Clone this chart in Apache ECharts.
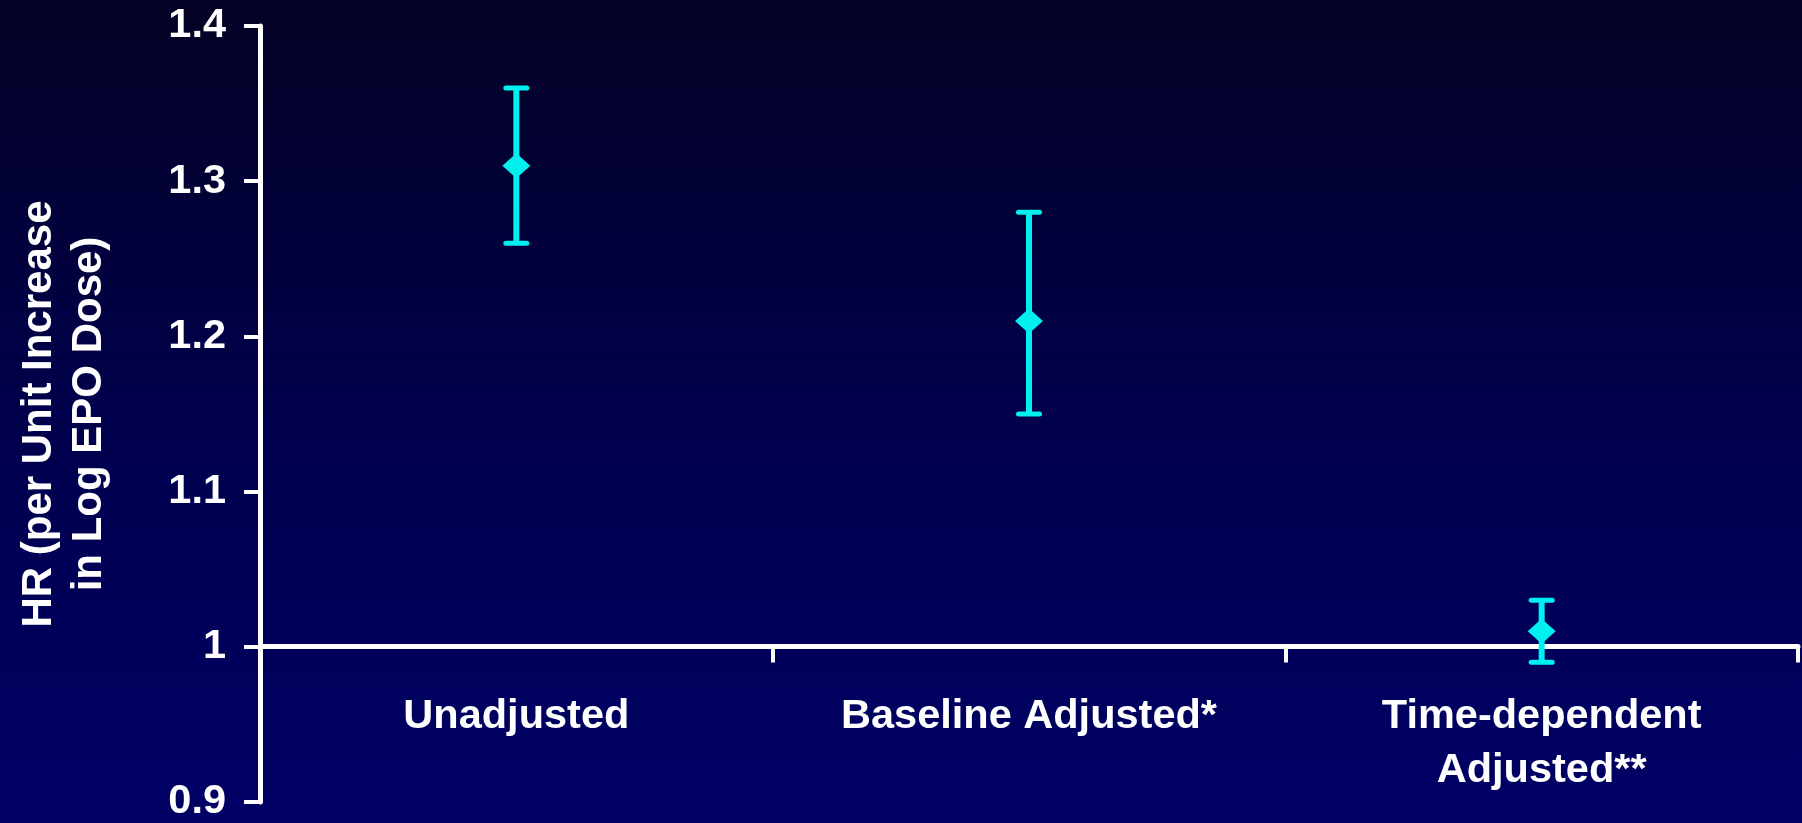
<!DOCTYPE html>
<html>
<head>
<meta charset="utf-8">
<script src="https://cdn.jsdelivr.net/npm/echarts@6/dist/echarts.min.js"></script>
<style>
  html, body { margin: 0; padding: 0; width: 1802px; height: 823px; overflow: hidden; }
  #chart { width: 1802px; height: 823px; }
</style>
</head>
<body>
<div id="chart"></div>
<script>
// ---- data ----
const categories = ['Unadjusted', 'Baseline Adjusted*', 'Time-dependent\nAdjusted**'];
const hrValues = [1.31, 1.21, 1.01];
const ciLower = [1.26, 1.15, 0.99];
const ciUpper = [1.36, 1.28, 1.03];
const yTicks = [0.9, 1.0, 1.1, 1.2, 1.3, 1.4];
const yName = 'HR (per Unit Increase\nin Log EPO Dose)';

// ---- layout ----
const W = 1802, H = 823;
const gridTop = 26, gridBottom = 20, gridLeft = 260, gridRight = 4;
const yMin = yTicks[0], yMax = yTicks[yTicks.length - 1];
const refLine = 1.0;
const gridH = H - gridTop - gridBottom;
const xAxisOffset = -gridH * (refLine - yMin) / (yMax - yMin);

const FONT = 'Liberation Sans, Arial, sans-serif';
const CYAN = '#00F0F0';

const chart = echarts.init(document.getElementById('chart'), null, { renderer: 'canvas' });

const errorData = categories.map((c, i) => [i, ciLower[i], ciUpper[i]]);
const pointData = categories.map((c, i) => [i, hrValues[i]]);

chart.setOption({
  animation: false,
  backgroundColor: {
    type: 'linear', x: 0, y: 0, x2: 0, y2: 1,
    colorStops: [
      { offset: 0, color: '#040224' },
      { offset: 0.5, color: '#00004c' },
      { offset: 1, color: '#000066' }
    ]
  },
  grid: { left: gridLeft, right: gridRight, top: gridTop, bottom: gridBottom, containLabel: false },
  xAxis: {
    type: 'category',
    data: categories,
    position: 'bottom',
    offset: xAxisOffset,
    boundaryGap: true,
    axisLine: { show: true, lineStyle: { color: '#ffffff', width: 5 } },
    axisTick: { show: true, inside: false, length: 16, lineStyle: { color: '#ffffff', width: 4 } },
    axisLabel: {
      color: '#ffffff', fontFamily: FONT, fontWeight: 'bold', fontSize: 41.5,
      lineHeight: 54, margin: 43, interval: 0
    },
    splitLine: { show: false }
  },
  yAxis: {
    type: 'value',
    min: yMin, max: yMax, interval: 0.1,
    name: yName,
    nameLocation: 'middle',
    nameGap: 146,
    nameTextStyle: { color: '#ffffff', fontFamily: FONT, fontWeight: 'bold', fontSize: 42, lineHeight: 50, align: 'center' },
    axisLine: { show: true, lineStyle: { color: '#ffffff', width: 5 } },
    axisTick: { show: true, inside: false, length: 16, lineStyle: { color: '#ffffff', width: 4 } },
    axisLabel: {
      color: '#ffffff', fontFamily: FONT, fontWeight: 'bold', fontSize: 41.5, margin: 34,
      formatter: v => {
        const r = Math.round(v * 10) / 10;
        return r === 1 ? '1' : r.toFixed(1);
      }
    },
    splitLine: { show: false }
  },
  series: [
    {
      type: 'custom',
      name: 'CI',
      data: errorData,
      z: 3,
      renderItem: function (params, api) {
        const x = api.value(0);
        const lo = api.coord([x, api.value(1)]);
        const hi = api.coord([x, api.value(2)]);
        const capHalf = 10.5;
        const style = { stroke: CYAN, lineWidth: 6, fill: null };
        const capStyle = { stroke: CYAN, lineWidth: 5, fill: null, lineCap: 'round' };
        return {
          type: 'group',
          children: [
            { type: 'line', shape: { x1: hi[0], y1: hi[1], x2: lo[0], y2: lo[1] }, style: style },
            { type: 'line', shape: { x1: hi[0] - capHalf, y1: hi[1], x2: hi[0] + capHalf, y2: hi[1] }, style: capStyle },
            { type: 'line', shape: { x1: lo[0] - capHalf, y1: lo[1], x2: lo[0] + capHalf, y2: lo[1] }, style: capStyle }
          ]
        };
      }
    },
    {
      type: 'scatter',
      name: 'HR',
      data: pointData,
      symbol: 'diamond',
      symbolSize: [28, 25],
      itemStyle: { color: CYAN, opacity: 1 },
      z: 4
    }
  ]
});
</script>
</body>
</html>
